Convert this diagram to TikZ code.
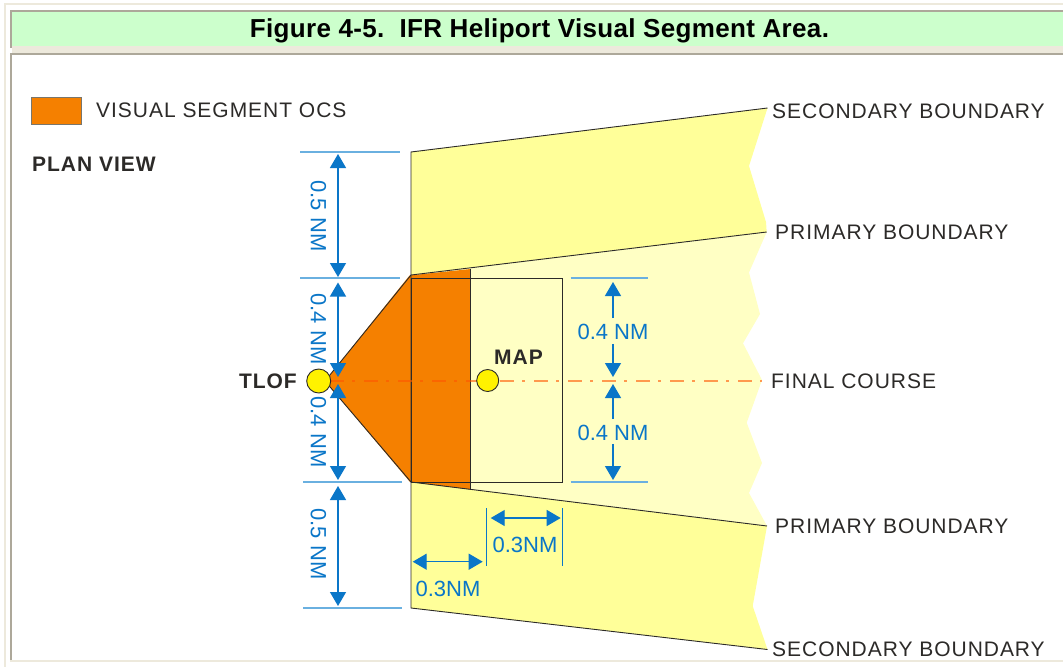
\documentclass[tikz,border=0pt]{standalone}
\usepackage{fontspec}
\setmainfont{Liberation Sans}
\newfontfamily\SpacedFont[LetterSpace=4.6]{Liberation Sans}
\newfontfamily\TitleFont[LetterSpace=1.3]{Liberation Sans}
\usetikzlibrary{arrows.meta,backgrounds}

\definecolor{FrameCream}{HTML}{EDE9DC}
\definecolor{FrameGray}{HTML}{ADA89A}
\definecolor{HeadGreen}{HTML}{CCFFCC}
\definecolor{SegOrange}{HTML}{F58000}
\definecolor{SecYellow}{HTML}{FFFF99}
\definecolor{PriYellow}{HTML}{FFFFC4}
\definecolor{DimBlue}{HTML}{0A76C8}
\definecolor{ExtBlue}{HTML}{6AB0E0}
\definecolor{InkDark}{HTML}{2C2A28}
\definecolor{CourseRed}{HTML}{FF5500}

\tikzset{
  edgeline/.style={draw=InkDark,line width=0.9pt},
  dimarrow/.style={DimBlue,line width=1.3pt,{Triangle[width=16pt,length=14pt]}-{Triangle[width=16pt,length=14pt]}},
  dimhead/.style={DimBlue,line width=1.3pt,-{Triangle[width=16pt,length=14pt]}},
  extline/.style={ExtBlue,line width=1.2pt},
  tickline/.style={DimBlue,line width=1pt},
  dimlabel/.style={text=DimBlue,font=\fontsize{22}{22}\selectfont,inner sep=0pt},
  bndlabel/.style={text=InkDark,font=\SpacedFont\fontsize{21}{21}\selectfont,inner sep=0pt,anchor=west},
  boldlabel/.style={text=InkDark,font=\SpacedFont\fontsize{21}{21}\selectfont\bfseries,inner sep=0pt},
  marker/.style={circle,draw=InkDark,line width=0.9pt,fill=yellow,inner sep=0pt,minimum size=23pt}
}

\begin{document}
\begin{tikzpicture}[x=1pt,y=-1pt]
  \useasboundingbox (0,0) rectangle (1063,667);

  % FRAME
  \fill[FrameCream] (4,3) rectangle (1063,5);
  \fill[FrameCream] (4,3) rectangle (6,667);
  \fill[FrameGray] (10,10) rectangle (1063,48);
  \fill[FrameCream] (12,46) rectangle (1063,48);
  \fill[HeadGreen] (12,12) rectangle (1063,46);
  \fill[FrameCream] (12,48) rectangle (1063,53);
  \fill[FrameGray] (10,53) rectangle (1063,662);
  \fill[white] (12,55) rectangle (1063,660);
  \fill[FrameCream] (10,660) rectangle (1063,662);
  \node[inner sep=0pt,anchor=base,font=\TitleFont\fontsize{26}{26}\selectfont\bfseries,text=black] (Title) at (539.5,37) {Figure 4-5.\ \ IFR Heliport Visual Segment Area.};

  % LEGEND
  \node[draw=FrameGray!70!black,fill=SegOrange,line width=0.8pt,minimum width=50pt,minimum height=27pt,inner sep=0pt] (LegendBox) at (56,110.5) {};
  \node[bndlabel] (LegendText) at (96,110) {VISUAL SEGMENT OCS};
  \node[boldlabel,anchor=west] (PlanView) at (32,164) {PLAN VIEW};

  % AREAS
  \fill[SecYellow] (411,152) -- (767.5,108) -- (749,166) -- (766,222) -- (766.7,232) -- (411,275) -- cycle;
  \fill[PriYellow] (411,275) -- (766.7,232) -- (749,272.5) -- (760,314) -- (743,343.3) -- (762,380)
     -- (746.7,422.7) -- (762,463) -- (749,493) -- (767,526) -- (411,482) -- cycle;
  \fill[SecYellow] (411,482) -- (767,526) -- (752.7,606) -- (767.5,649.5) -- (411,608) -- cycle;
  \fill[SegOrange] (409.5,275.5) -- (470.7,269) -- (470.7,489.5) -- (410,482) -- (325,381) -- cycle;

  % OUTLINES
  \coordinate (SecTopIn) at (411,152);
  \coordinate (SecTopOut) at (767.5,108);
  \coordinate (PriTopIn) at (411,275);
  \coordinate (PriTopOut) at (766.7,232);
  \coordinate (PriBotIn) at (411,482);
  \coordinate (PriBotOut) at (767,526);
  \coordinate (SecBotIn) at (411,608);
  \coordinate (SecBotOut) at (767.5,649.5);
  \draw[edgeline] (SecTopOut) -- (SecTopIn) -- (SecBotIn) -- (SecBotOut);
  \draw[edgeline] (PriTopOut) -- (PriTopIn);
  \draw[edgeline] (PriBotOut) -- (PriBotIn);
  \draw[edgeline] (325,381) -- (PriTopIn);
  \draw[edgeline] (325,381) -- (PriBotIn);
  \draw[edgeline] (470.7,269) -- (470.7,489.5);
  \draw[edgeline] (411,278) rectangle (562,482);

  % FINAL COURSE
  \draw[CourseRed,opacity=0.6,line width=1.4pt,dash pattern=on 14pt off 8pt on 3pt off 9pt] (330,381) -- (762,381);
  \node[marker,minimum size=24pt] (Tlof) at (318.7,381) {};
  \node[marker,minimum size=22pt] (Map) at (487.7,380.5) {};
  \node[boldlabel,anchor=east] (TlofLabel) at (297,381) {TLOF};
  \node[boldlabel] (MapLabel) at (518.5,357) {MAP};
  \node[bndlabel] (FinalCourse) at (771,381) {FINAL COURSE};

  % BOUNDARY LABELS
  \node[bndlabel] (SecTopLabel) at (772,111) {SECONDARY BOUNDARY};
  \node[bndlabel] (PriTopLabel) at (775,232) {PRIMARY BOUNDARY};
  \node[bndlabel] (PriBotLabel) at (775,526) {PRIMARY BOUNDARY};
  \node[bndlabel] (SecBotLabel) at (772,649) {SECONDARY BOUNDARY};

  % LEFT DIMENSIONS
  \draw[extline] (300,152) -- (400,152);
  \draw[extline] (300,278) -- (400,278);
  \draw[extline] (303,482) -- (402,482);
  \draw[extline] (303,608) -- (402,608);
  \coordinate (LeftA) at (338,154);
  \coordinate (LeftB) at (338,277);
  \coordinate (LeftC) at (338,282.5);
  \coordinate (LeftD) at (338,377);
  \coordinate (LeftE) at (338,384);
  \coordinate (LeftF) at (338,480);
  \coordinate (LeftG) at (338,486);
  \coordinate (LeftH) at (338,606);
  \draw[dimarrow] (LeftA) -- (LeftB);
  \draw[dimarrow] (LeftC) -- (LeftD);
  \draw[dimarrow] (LeftE) -- (LeftF);
  \draw[dimarrow] (LeftG) -- (LeftH);
  \node[dimlabel,rotate=-90] (LeftLabelA) at (318.5,216) {0.5 NM};
  \node[dimlabel,rotate=-90] (LeftLabelB) at (318.5,329) {0.4 NM};
  \node[dimlabel,rotate=-90] (LeftLabelC) at (318.5,432) {0.4 NM};
  \node[dimlabel,rotate=-90] (LeftLabelD) at (318.5,544) {0.5 NM};

  % RIGHT DIMENSIONS
  \draw[extline] (570.5,278) -- (648,278);
  \draw[extline] (570.5,482) -- (648,482);
  \node[dimlabel] (RightLabelA) at (613,332) {0.4 NM};
  \node[dimlabel] (RightLabelB) at (613,433) {0.4 NM};
  \coordinate (RightA) at (613,282);
  \coordinate (RightB) at (613,377);
  \coordinate (RightC) at (613,384);
  \coordinate (RightD) at (613,480);
  \draw[dimhead] (RightLabelA.north) ++(0,-6) -- (RightA);
  \draw[dimhead] (RightLabelA.south) ++(0,4) -- (RightB);
  \draw[dimhead] (RightLabelB.north) ++(0,-6) -- (RightC);
  \draw[dimhead] (RightLabelB.south) ++(0,3) -- (RightD);

  % 0.3 NM
  \draw[tickline] (486.7,508) -- (486.7,566);
  \draw[tickline] (562.3,508) -- (562.3,566);
  \coordinate (WidthA) at (412.7,561.7);
  \coordinate (WidthB) at (482.7,561.7);
  \coordinate (WidthC) at (490.7,518);
  \coordinate (WidthD) at (560.7,518);
  \draw[dimarrow] (WidthA) -- (WidthB);
  \draw[dimarrow] (WidthC) -- (WidthD);
  \node[dimlabel] (WidthLabelA) at (448,589) {0.3NM};
  \node[dimlabel] (WidthLabelB) at (525,545) {0.3NM};
\end{tikzpicture}
\end{document}
